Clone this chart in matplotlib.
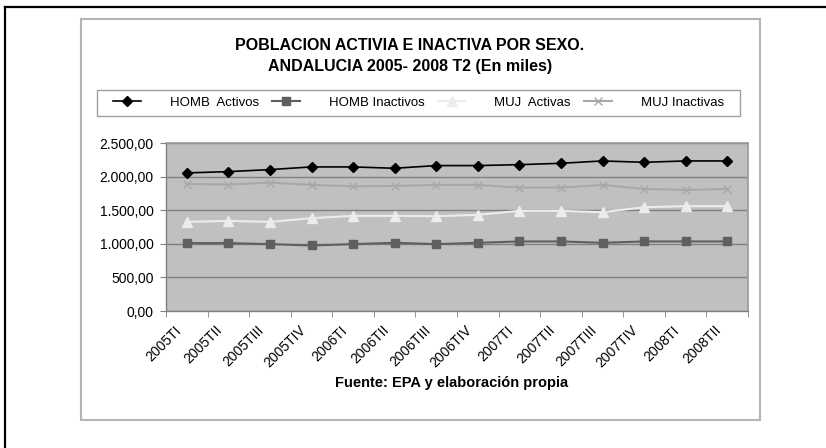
import numpy as np
import matplotlib
matplotlib.use("Agg")
from matplotlib import pyplot as plt
from matplotlib.patches import Rectangle
from matplotlib.lines import Line2D
from matplotlib.ticker import FuncFormatter, FixedLocator, NullFormatter
from matplotlib.transforms import ScaledTranslation, blended_transform_factory

plt.rcParams['font.family'] = ['Liberation Sans', 'DejaVu Sans']

# Data (thousands)
periods = ['2005TI', '2005TII', '2005TIII', '2005TIV', '2006TI', '2006TII', '2006TIII',
           '2006TIV', '2007TI', '2007TII', '2007TIII', '2007TIV', '2008TI', '2008TII']
homb_activos = [2055, 2074, 2104, 2144, 2144, 2124, 2164, 2164, 2178, 2198, 2233, 2213, 2233, 2233]
homb_inactivos = [1010, 1010, 995, 975, 995, 1015, 995, 1015, 1035, 1035, 1015, 1035, 1035, 1035]
muj_activas = [1326, 1341, 1326, 1381, 1416, 1416, 1411, 1431, 1490, 1490, 1470, 1545, 1560, 1560]
muj_inactivas = [1891, 1881, 1911, 1876, 1856, 1861, 1876, 1876, 1836, 1836, 1876, 1816, 1801, 1816]

W, H = 826, 448
fig = plt.figure(figsize=(W / 100, H / 100), dpi=100)

def px(x, y):
    return x / W, 1 - y / H

# outer frame (black, top and left)
fig.add_artist(Line2D([5 / W, 1], [1 - 7 / H, 1 - 7 / H], transform=fig.transFigure, color='black', lw=1.6))
fig.add_artist(Line2D([5 / W, 5 / W], [0, 1 - 7 / H], transform=fig.transFigure, color='black', lw=1.6))

# chart area frame (gray)
x0, y0 = px(81, 420)
x1, y1 = px(760, 19)
fig.add_artist(Rectangle((x0, y0), x1 - x0, y1 - y0, transform=fig.transFigure,
                         fill=False, edgecolor='#b4b4b4', lw=1.5))

# plot area
l, b = px(166, 311)
r, t = px(748, 143)
ax = fig.add_axes([l, b, r - l, t - b])
ax.set_facecolor('#c0c0c0')

x = np.arange(len(periods))
ax.plot(x, homb_activos, color='black', marker='D', markersize=5, lw=1.2, label='HOMB  Activos')
ax.plot(x, homb_inactivos, color='#5f5f5f', marker='s', markersize=6, lw=1.5, label='HOMB Inactivos')
ax.plot(x, muj_activas, color='#ececec', marker='^', markersize=6.5, lw=1.5, label='MUJ  Activas')
ax.plot(x, muj_inactivas, color='#a8a8a8', marker='x', markersize=6, mew=1.0, lw=1.5, label='MUJ Inactivas')

ax.set_xlim(-0.5, len(periods) - 0.5)
ax.set_ylim(0, 2500)
ax.set_yticks(np.arange(0, 2501, 500))
ax.yaxis.set_major_formatter(FuncFormatter(
    lambda v, p: '{:,.2f}'.format(v).replace(',', 'X').replace('.', ',').replace('X', '.')))
ax.grid(axis='y', color='#808080', lw=1.0)
ax.set_axisbelow(True)

# category labels, rotated, placed under each category
ax.set_xticks(x)
ax.xaxis.set_major_formatter(NullFormatter())
ax.tick_params(axis='x', which='major', length=0)
lab_tr = blended_transform_factory(ax.transData, ax.transAxes) + \
    ScaledTranslation(-8 / 100, -17 / 100, fig.dpi_scale_trans)
for i, p in enumerate(periods):
    ax.text(x[i], 0, p, transform=lab_tr, rotation=45, ha='right', va='center',
            rotation_mode='anchor', fontsize=10, clip_on=False)

ax.xaxis.set_minor_locator(FixedLocator(np.arange(-0.5, len(periods), 1)))
ax.tick_params(axis='x', which='minor', length=4, color='#808080', direction='out')
ax.tick_params(axis='y', labelsize=10, length=4, color='#808080', pad=5)

for s in ['top', 'right']:
    ax.spines[s].set_color('#9a9a9a')
    ax.spines[s].set_linewidth(1.2)
for s in ['left', 'bottom']:
    ax.spines[s].set_color('#808080')
    ax.spines[s].set_linewidth(1.0)

# title
tx, ty = px(410, 45)
fig.text(tx, ty, 'POBLACION ACTIVIA E INACTIVA POR SEXO.', ha='center', va='center',
         fontsize=11.5, fontweight='bold')
tx, ty = px(410, 66)
fig.text(tx, ty, 'ANDALUCIA 2005- 2008 T2 (En miles)', ha='center', va='center',
         fontsize=11.5, fontweight='bold')

# source
sx, sy = px(452, 383)
fig.text(sx, sy, 'Fuente: EPA y elaboración propia', ha='center', va='center',
         fontsize=10.5, fontweight='bold')

# legend box + entries
lx0, ly0 = px(97, 116)
lx1, ly1 = px(740, 90)
fig.add_artist(Rectangle((lx0, ly0), lx1 - lx0, ly1 - ly0, transform=fig.transFigure,
                         fill=False, edgecolor='#a0a0a0', lw=1.0))
leg = fig.legend(loc='center', bbox_to_anchor=((lx0 + lx1) / 2, (ly0 + ly1) / 2),
                 ncol=4, fontsize=9.5, frameon=False,
                 handlelength=2.1, borderaxespad=0, columnspacing=1.0, handletextpad=2.2)

fig.savefig('out.png', dpi=100)
